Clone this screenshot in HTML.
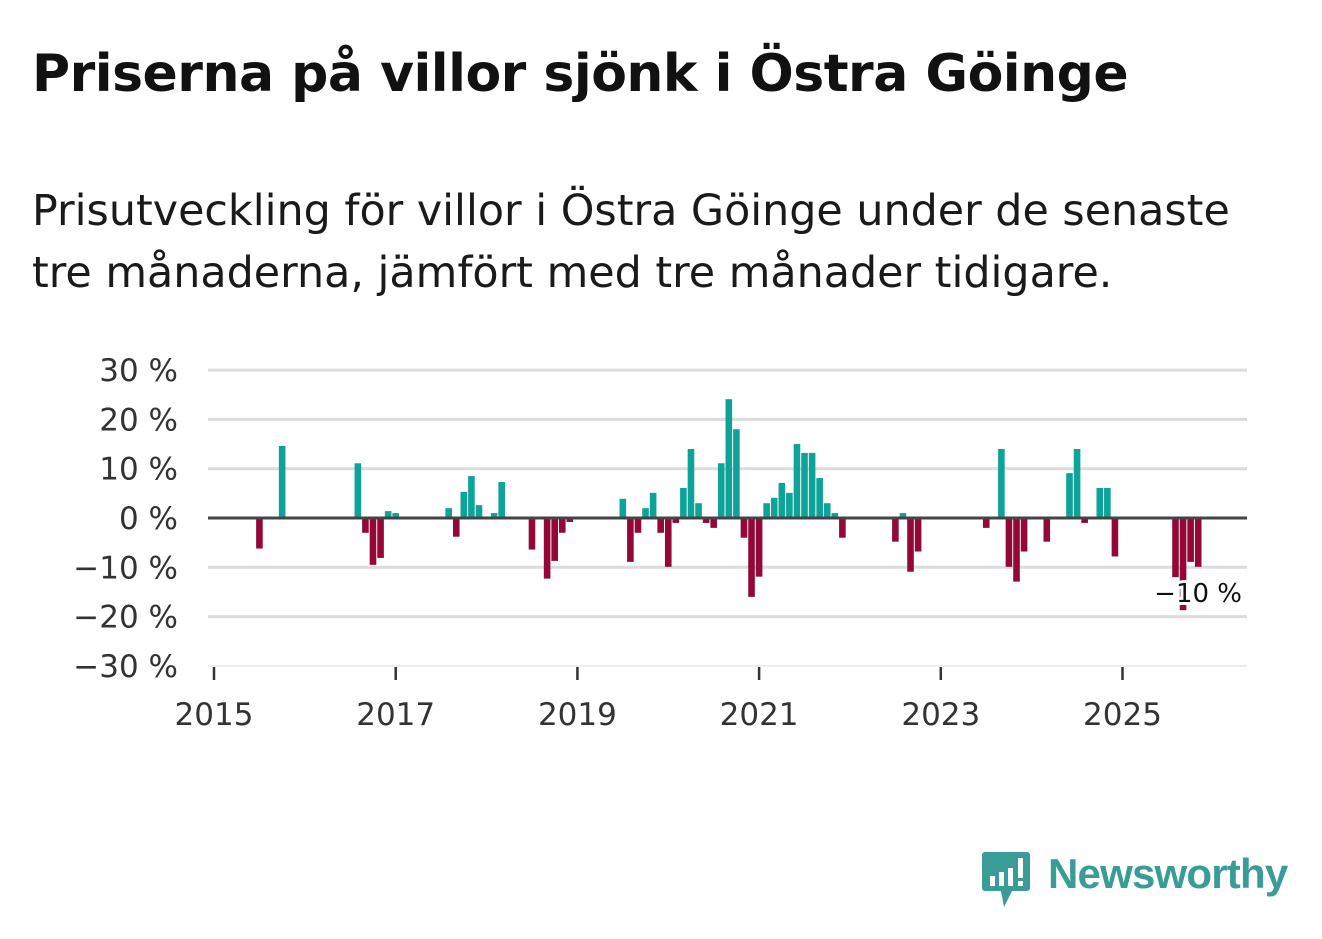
<!DOCTYPE html>
<html><head><meta charset="utf-8"><style>
body{margin:0;width:1322px;height:939px;background:#fff;font-family:"DejaVu Sans","Liberation Sans",sans-serif;overflow:hidden;position:relative}
h1{position:absolute;left:32px;top:44px;margin:0;font-size:52px;font-weight:bold;color:#111;letter-spacing:-0.5px;white-space:nowrap}
p.sub{position:absolute;left:32px;top:180px;margin:0;font-size:42.8px;line-height:62px;color:#1a1a1a;width:1290px;white-space:nowrap}
svg{position:absolute;left:0;top:0}
</style></head><body>
<h1>Priserna på villor sjönk i Östra Göinge</h1>
<p class="sub">Prisutveckling för villor i Östra Göinge under de senaste<br>tre månaderna, jämfört med tre månader tidigare.</p>
<svg id="chart" width="1322" height="939"></svg>
<div style="position:absolute;left:982px;top:850px;height:60px">
<svg width="50" height="60" style="position:absolute;left:0;top:0"><path d="M3 2h42a3 3 0 0 1 3 3v33a3 3 0 0 1-3 3H30l-8 16-3-16H3a3 3 0 0 1-3-3V5a3 3 0 0 1 3-3z" fill="#3a9c96"/><rect x="8" y="26" width="5" height="10" fill="#fff"/><rect x="17" y="22" width="5" height="14" fill="#fff"/><rect x="26" y="18" width="5" height="18" fill="#fff"/><rect x="36" y="8" width="5" height="20" fill="#fff"/><rect x="36" y="31" width="5" height="5" fill="#fff"/></svg>
<span style="position:absolute;left:66px;top:0px;font-family:'Liberation Sans',sans-serif;font-size:42px;color:#3a9c96;white-space:nowrap;font-weight:bold;letter-spacing:-0.8px">Newsworthy</span>
</div>
<script>
const idx=[6,9,19,20,21,22,23,24,31,32,33,34,35,37,38,42,44,45,46,47,54,55,56,57,58,59,60,61,62,63,64,65,66,67,68,69,70,71,72,73,74,75,76,77,78,79,80,81,82,83,90,91,92,93,102,104,105,106,107,110,113,114,115,117,118,119,127,128,129,130];
const vals=[-6.2,14.6,11.1,-3,-9.5,-8.1,1.4,1.0,2.0,-3.8,5.3,8.5,2.6,1.0,7.3,-6.4,-12.3,-8.7,-3,-0.8,3.9,-8.9,-3,2.0,5.1,-3,-9.9,-1.0,6.1,14.0,3.0,-1.0,-2.0,11.1,24.1,18.0,-4.0,-16.0,-11.9,3.0,4.1,7.1,5.1,15.0,13.2,13.2,8.1,3.0,1.0,-4.0,-4.8,1.0,-10.9,-6.8,-2.0,14.0,-9.9,-12.9,-6.8,-4.8,9.1,14.0,-1.0,6.1,6.1,-7.8,-12,-18.7,-8.9,-9.9];
const yTicks=[30,20,10,0,-10,-20,-30];
const yTickLabels=["30 %","20 %","10 %","0 %","\u221210 %","\u221220 %","\u221230 %"];
const xYears=[2015,2017,2019,2021,2023,2025];
const lastLabel="\u221210 %";
const NS="http://www.w3.org/2000/svg";
const svg=document.getElementById('chart');
const x=m=>214+m*(908.5/120);
const y=v=>518-v*4.93;
function mk(t,a){const e=document.createElementNS(NS,t);for(const k in a)e.setAttribute(k,a[k]);svg.appendChild(e);return e;}
yTicks.forEach((v,i)=>{
  const g=mk('line',{x1:208,x2:1247,y1:y(v),y2:y(v),stroke:v===-30?'#e6e6e6':'#dcdcdc','stroke-width':v===-30?1.5:3});
  
  
  const t=mk('text',{x:178,y:y(v)+11,'text-anchor':'end','font-size':31,fill:'#333','font-family':'DejaVu Sans, sans-serif'});
  t.textContent=yTickLabels[i];
  
  
});
xYears.forEach(yr=>{
  const xx=x((yr-2015)*12);
  const tk=mk('line',{x1:xx,x2:xx,y1:667,y2:680,stroke:'#333','stroke-width':2.5});
  
  
  const t=mk('text',{x:xx,y:725,'text-anchor':'middle','font-size':31,fill:'#333','font-family':'DejaVu Sans, sans-serif'});
  t.textContent=yr;
  
  
});
idx.forEach((m,i)=>{
  const v=vals[i];const cx=x(m);
  const b=mk('rect',{x:cx-3.3,width:6.6,y:Math.min(y(v),y(0)),height:Math.abs(y(v)-y(0)),fill:v>=0?'#0ea398':'#930836'});
  
  
});
const z=mk('line',{x1:208,x2:1247,y1:y(0),y2:y(0),stroke:'#444','stroke-width':3});


const lbl=mk('text',{x:1242,y:602,'text-anchor':'end','font-size':26,fill:'#111',stroke:'#fff','stroke-width':6,'paint-order':'stroke','font-family':'DejaVu Sans, sans-serif'});
lbl.textContent=lastLabel;


</script>
</body></html>
